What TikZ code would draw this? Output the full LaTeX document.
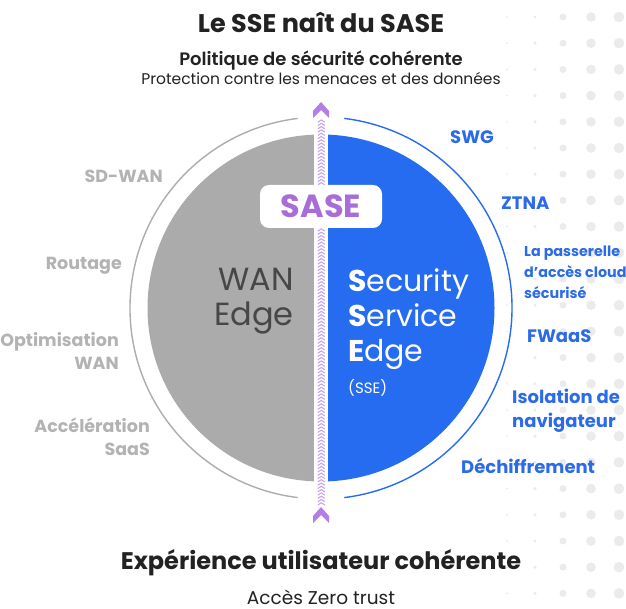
\documentclass[tikz,border=0pt]{standalone}
\usepackage{fontspec}
\setmainfont{Poppins}
\newfontfamily\semibold{Poppins SemiBold}
\usetikzlibrary{positioning}
\definecolor{wangray}{HTML}{ABABAB}
\definecolor{ringgray}{HTML}{ADADAD}
\definecolor{lblgray}{HTML}{B3B3B3}
\definecolor{sseblue}{HTML}{256CF0}
\definecolor{lblblue}{HTML}{2C6BE8}
\definecolor{sasepurple}{HTML}{A76ED9}
\definecolor{chevpurple}{HTML}{B37FE4}
\definecolor{chevlight}{HTML}{C8A4EE}
\definecolor{darktext}{HTML}{222222}
\definecolor{wantext}{HTML}{474747}
\definecolor{dotgray}{HTML}{EBEBEB}

\begin{document}
\begin{tikzpicture}[x=1pt, y=-1pt,
    leftlbl/.style={anchor=base east, align=right, inner sep=0pt, text=lblgray, font=\bfseries\fontsize{17.5}{23}\selectfont},
    rightlbl/.style={anchor=base west, align=left, inner sep=0pt, text=lblblue, font=\bfseries\fontsize{18}{24}\selectfont},
    heading/.style={anchor=base, inner sep=0pt, text=darktext},
    chev/.style={draw=chevlight, line width=1.1pt},
    bigchev/.style={fill=chevpurple},
]
\useasboundingbox (0,0) rectangle (626,609);
\fill[white] (0,0) rectangle (626,609);

% dot grid on the right
\foreach \cx/\r in {507/1, 535/1.7, 563/3.5, 591/4.8, 619/5.3}
  \foreach \k in {0,...,22}
    \fill[dotgray] ({\cx},{17+26.2*\k}) circle (\r);

\coordinate (c) at (321,308);

% outer ring, split at top and bottom
\draw[ringgray, line width=1.4pt] ([shift={(97:191)}]c) arc[start angle=97, end angle=263, radius=191];
\draw[sseblue, line width=1.4pt] ([shift={(-83:191)}]c) arc[start angle=-83, end angle=83, radius=191];

% the two halves of the disc
\begin{scope}
  \clip (c) circle (173.5);
  \fill[wangray] (140,130) rectangle (313.5,490);
  \fill[sseblue] (328,130) rectangle (500,490);
\end{scope}

% chevron strip
\foreach \y in {120,123.3,...,504}
  \draw[chev] (317.8,\y+2.2) -- (321.3,\y) -- (324.8,\y+2.2);
\fill[bigchev] (313,111) -- (321,102) -- (329,111) -- (329,118) -- (321,110) -- (313,118) -- cycle;
\fill[bigchev] (313,516) -- (321,507) -- (329,516) -- (329,523) -- (321,515) -- (313,523) -- cycle;

\node[fill=white, rounded corners=9pt, minimum width=122pt, minimum height=43pt, inner sep=0pt,
      text=sasepurple, font=\bfseries\fontsize{32}{32}\selectfont] (sase) at (321,206.5) {SASE};

% inside the disc (base = last line)
\node[anchor=base east, align=right, inner sep=0pt, text=wantext, font=\fontsize{32}{35}\selectfont] (wan) at (294,326) {WAN\\Edge};
\node[anchor=base west, align=left, inner sep=0pt, text=white, font=\fontsize{30}{35}\selectfont] (sse) at (348,361) {\textbf{S}ecurity\\\textbf{S}ervice\\\textbf{E}dge};
\node[anchor=base west, inner sep=0pt, text=white, font=\fontsize{15}{15}\selectfont] (abbr) at (348,393) {(SSE)};

% WAN side
\node[leftlbl] (sdwan) at (163,183) {SD-WAN};
\node[leftlbl] (routage) at (122,270) {Routage};
\node[leftlbl] (optim) at (119,369) {Optimisation\\WAN};
\node[leftlbl] (accel) at (150,455) {Accélération\\SaaS};

% SSE side
\node[rightlbl] (swg) at (450,144) {SWG};
\node[rightlbl] (ztna) at (501,210) {ZTNA};
\node[rightlbl, font=\bfseries\fontsize{14.3}{21}\selectfont] (casb) at (524,299) {La passerelle\\d’accès cloud\\sécurisé};
\node[rightlbl] (fwaas) at (527,342) {FWaaS};
\node[rightlbl] (rbi) at (512,427) {Isolation de\\navigateur};
\node[rightlbl] (decrypt) at (461,473) {Déchiffrement};

% top and bottom texts
\node[heading, font=\bfseries\fontsize{25.5}{25.5}\selectfont] (title) at (321,33) {Le SSE naît du SASE};
\node[heading, font=\semibold\fontsize{18}{18}\selectfont] (policy) at (321,66) {Politique de sécurité cohérente};
\node[heading, font=\fontsize{15.5}{15.5}\selectfont] (protect) at (321,85) {Protection contre les menaces et des données};
\node[heading, font=\bfseries\fontsize{24}{24}\selectfont] (ux) at (321,569) {Expérience utilisateur cohérente};
\node[heading, font=\fontsize{18.5}{18.5}\selectfont] (zt) at (321,604) {Accès Zero trust};
\end{tikzpicture}
\end{document}
